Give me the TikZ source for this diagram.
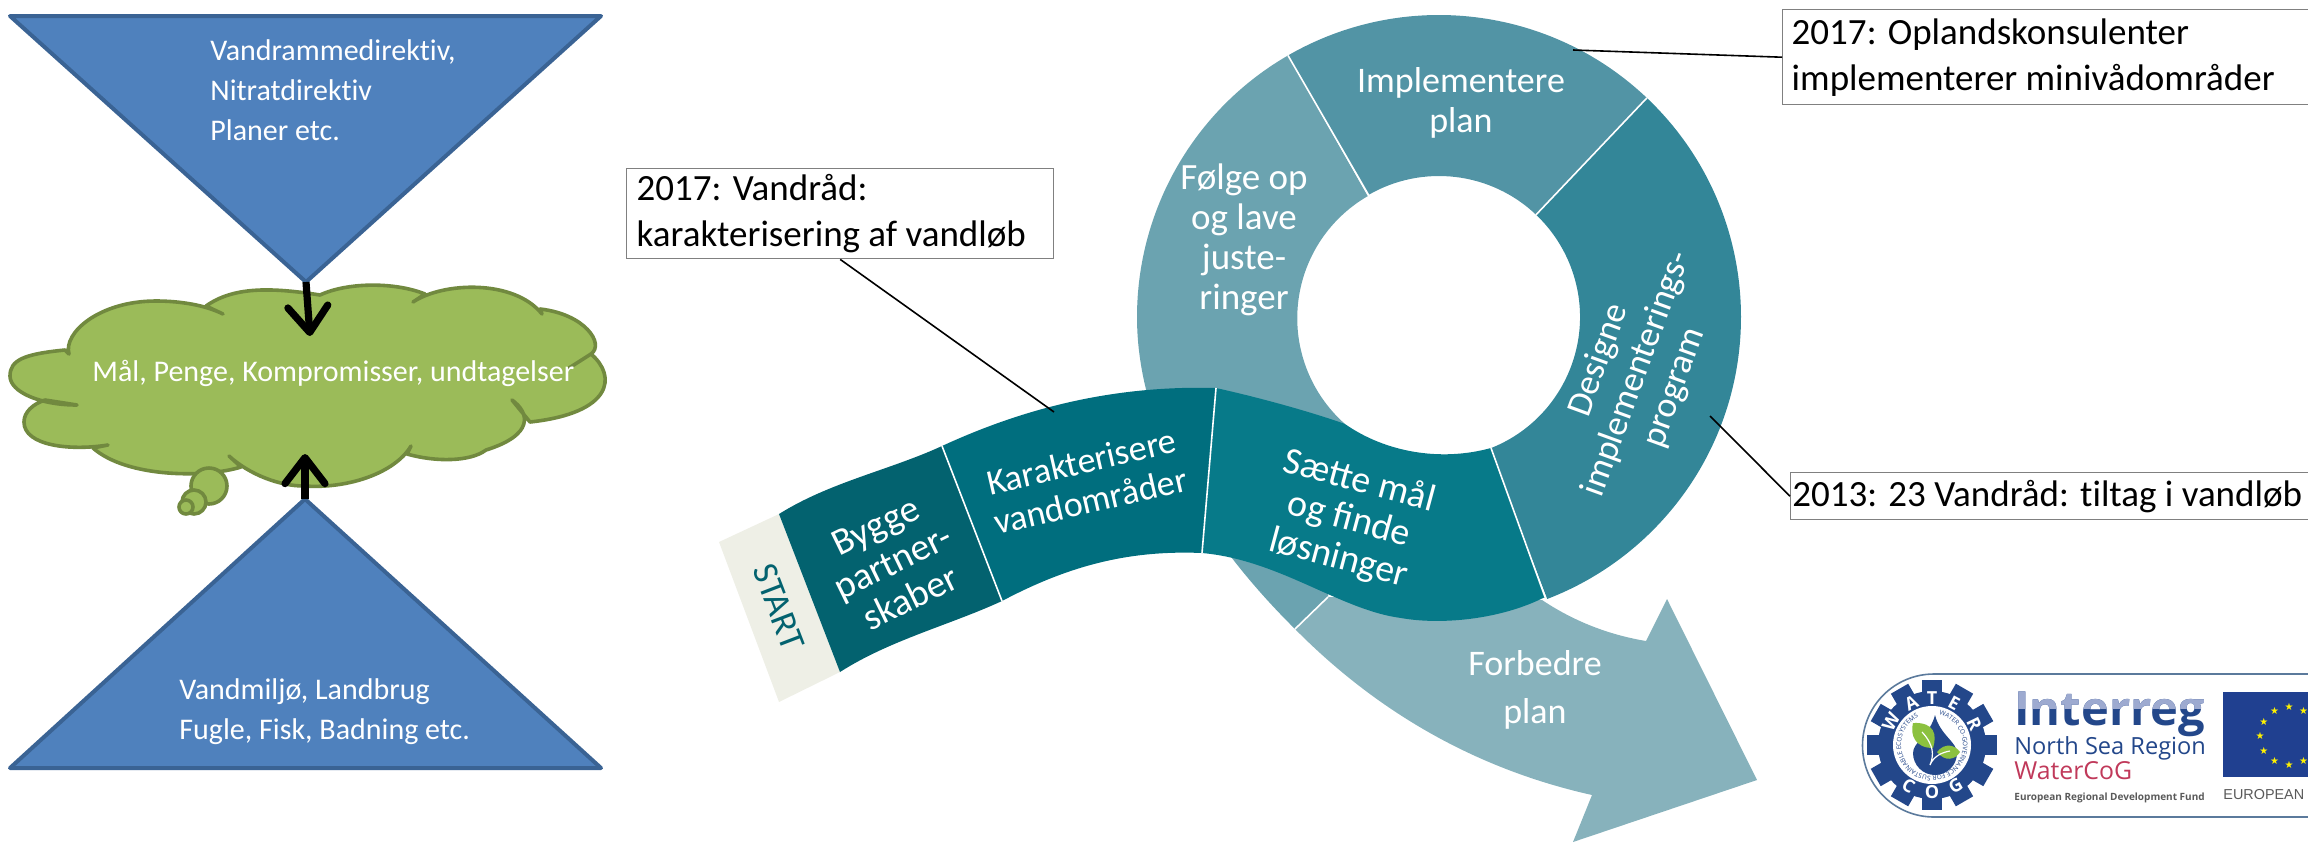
\documentclass[tikz,border=0pt]{standalone}
\usepackage{fontspec}
\setmainfont[Ligatures=NoCommon]{Carlito}
\newfontfamily\stepfont{Carlito}
\newfontfamily\logofont{Open Sans}
\newfontfamily\flagfont{Liberation Sans}
\newfontfamily\starfont{DejaVu Sans}
\usetikzlibrary{arrows.meta,calc,decorations.text}
\definecolor{trifill}{HTML}{4F81BD}
\definecolor{triline}{HTML}{3A6394}
\definecolor{cloudfill}{HTML}{9BBB59}
\definecolor{cloudline}{HTML}{71893F}
\definecolor{forbedrecol}{HTML}{87B2BC}
\definecolor{foelgecol}{HTML}{6BA3B0}
\definecolor{implcol}{HTML}{5294A5}
\definecolor{designcol}{HTML}{338698}
\definecolor{saettecol}{HTML}{077A89}
\definecolor{karakcol}{HTML}{006E7E}
\definecolor{byggecol}{HTML}{03626F}
\definecolor{startcol}{HTML}{EEEFE6}
\definecolor{logoblue}{HTML}{23478A}
\definecolor{logopale}{HTML}{9DAAD0}
\definecolor{logoframe}{HTML}{5B7A9C}
\definecolor{logored}{HTML}{C0395A}
\definecolor{logoleaf}{HTML}{8CC13F}
\definecolor{flagblue}{HTML}{204090}
\tikzstyle{triangle}=[fill=trifill,draw=triline,line width=2pt,line join=round]
\tikzstyle{tritext}=[text=white,anchor=north west,align=flush left,inner sep=0pt,
    font=\fontsize{15}{20}\selectfont]
\tikzstyle{cloud}=[fill=cloudfill,draw=cloudline,line width=1.8pt,line join=round]
\tikzstyle{bigarrow}=[line width=3.6pt,-{Straight Barb[length=13pt,width=20pt,round]}]
\tikzstyle{notebox}=[draw=gray,fill=white,line width=0.7pt,anchor=north west,align=flush left,
    inner ysep=0pt,font=\fontsize{18.5}{23}\selectfont]
\tikzstyle{notewire}=[draw=black,line width=0.8pt]
\tikzstyle{divider}=[draw=white,line width=0.8pt]
\tikzstyle{stepname}=[text=white,align=center,inner sep=0pt,
    font=\stepfont\fontsize{18}{20}\selectfont]
\tikzstyle{logotext}=[inner sep=0pt,anchor=base west]
\newcommand{\ringsector}[3]{
    \fill[#1] ($(ringcentre)+(#2:302)$) arc[start angle=#2,end angle=#3,radius=302] --
        ($(ringcentre)+(#3:141)$) arc[start angle=#3,end angle=#2,radius=141] -- cycle;
}
\begin{document}
\begin{tikzpicture}[x=0.5pt,y=-0.5pt]
    \useasboundingbox (0,0) rectangle (2308,842);
    % triangles
    \coordinate (toptip) at (306,282);
    \coordinate (lowtip) at (305,499);
    \draw[triangle] (10,16) -- (601,16) -- (toptip) -- cycle;
    \draw[triangle] (10,768) -- (601,768) -- (lowtip) -- cycle;
    \node[tritext] (toptext) at (210,39) {Vandrammedirektiv,\\Nitratdirektiv\\Planer etc.};
    \node[tritext] (lowtext) at (179,678) {Vandmiljø, Landbrug\\Fugle, Fisk, Badning etc.};
    % cloud
    \draw[cloud] (69,354) .. controls (63,333) and (99,301) .. (156,301)
        .. controls (180,301) and (205,305) .. (223,314) -- (206,306)
        .. controls (233,287) and (269,287) .. (320,295)
        .. controls (348,282) and (395,282) .. (425,294) -- (413,302)
        .. controls (443,282) and (514,279) .. (542,314) -- (540,309)
        .. controls (585,314) and (605,344) .. (591,354) -- (569,368) -- (591,354)
        .. controls (617,376) and (613,413) .. (530,422) -- (512,400)
        .. controls (530,413) and (534,435) .. (486,450)
        .. controls (470,462) and (435,462) .. (407,454) -- (411,446)
        .. controls (395,473) and (348,489) .. (304,486)
        .. controls (280,486) and (250,475) .. (229,456) -- (241,467)
        .. controls (206,478) and (127,478) .. (93,448) -- (108,445)
        .. controls (71,451) and (24,446) .. (24,422)
        .. controls (24,412) and (33,404) .. (45,400) -- (77,405)
        .. controls (40,405) and (10,392) .. (10,376)
        .. controls (10,360) and (24,354) .. (65,350) -- cycle;
    \draw[cloud] (209,486) circle (18);
    \draw[cloud] (194,502) circle (12);
    \draw[cloud] (186,507) circle (7);
    \node[text=white,anchor=base west,inner sep=0pt,font=\fontsize{15}{20}\selectfont]
        (goal) at (92,381) {Mål, Penge, Kompromisser, undtagelser};
    \coordinate (goalnorth) at (310,336);
    \coordinate (goalsouth) at (305,454);
    \draw[bigarrow] (toptip) -- (goalnorth);
    \draw[bigarrow] (lowtip) -- (goalsouth);
    % forbedre arrow and ring
    \coordinate (ringcentre) at (1439,317);
    \coordinate (fbA) at (1295,629);
    \coordinate (fbB) at (1328,597);
    \fill[forbedrecol] (fbA) .. controls (1380,715) and (1480,770) .. (1592,795)
        -- (1573,842) -- (1757,780) -- (1667,599) -- (1646,641)
        .. controls (1610,635) and (1575,622) .. (1542,600) -- (fbB) -- cycle;
    \fill[foelgecol] ($(ringcentre)+(-120:302)$) arc[start angle=-120,end angle=-180,radius=302]
        .. controls (1137,430) and (1205,540) .. (fbA) -- (fbB) -- (1345,424)
        arc[start angle=131.4,end angle=240,radius=141] -- cycle;
    \ringsector{implcol}{-120}{-46.5}
    \ringsector{designcol}{-46.5}{69}
    \draw[divider] ($(ringcentre)+(-120:141)$) -- ($(ringcentre)+(-120:302)$);
    \draw[divider] ($(ringcentre)+(-46.5:141)$) -- ($(ringcentre)+(-46.5:302)$);
    \draw[divider] (fbA) -- (fbB);
    % band
    \coordinate (bandA) at (779,514);
    \coordinate (bandB) at (942,446);
    \coordinate (bandC) at (1216,388);
    \coordinate (bandD) at (1491,448);
    \coordinate (bandE) at (1545,597);
    \coordinate (bandF) at (1202,553);
    \coordinate (bandG) at (1002,601);
    \coordinate (bandH) at (840,672);
    \fill[startcol] (719,542) -- (bandA) -- (bandH) -- (779,702) -- cycle;
    \fill[byggecol] (bandA) .. controls (830,482) and (890,470) .. (bandB)
        -- (bandG) .. controls (950,625) and (890,640) .. (bandH) -- cycle;
    \fill[karakcol] (bandB) .. controls (1020,410) and (1110,385) .. (bandC)
        -- (bandF) .. controls (1130,550) and (1070,565) .. (bandG) -- cycle;
    \fill[saettecol] (bandC) .. controls (1270,400) and (1320,415) .. (1345,424)
        .. controls (1385,452) and (1440,462) .. (bandD) -- (bandE)
        .. controls (1500,620) and (1440,625) .. (1401,618)
        .. controls (1340,610) and (1280,560) .. (bandF) -- cycle;
    \draw[divider] (bandB) -- (bandG);
    \draw[divider] (bandC) -- (bandF);
    \draw[divider] (bandD) -- (bandE);
    % step labels
    \node[stepname] (impl) at (1461,103) {Implementere\\plan};
    \node[stepname,font=\stepfont\fontsize{18.5}{20}\selectfont] (foelge) at (1244,240)
        {Følge op\\og lave\\juste-\\ringer};
    \node[stepname,rotate=70] (design) at (1637,374) {Designe\\implementerings-\\program};
    \node[stepname,rotate=-15,font=\stepfont\fontsize{19}{20}\selectfont] (saette) at (1349,520)
        {Sætte mål\\og finde\\løsninger};
    \node[stepname,rotate=13] (karak) at (1086,481) {Karakterisere\\vandområder};
    \node[stepname,rotate=26,font=\stepfont\fontsize{19}{20}\selectfont] (bygge) at (893,562)
        {Bygge\\partner-\\skaber};
    \node[stepname,rotate=-69,text=byggecol] (start) at (779,607) {START};
    \node[stepname,font=\stepfont\fontsize{18}{24}\selectfont] (forbedre) at (1535,690)
        {Forbedre\\plan};
    % notes
    \node[notebox,inner xsep=5pt,minimum width=213.5pt,minimum height=45pt,text width=203.5pt]
        (noteA) at (626,168) {2017: Vandråd:\\karakterisering af vandløb};
    \node[notebox,inner xsep=4.5pt,minimum width=266.5pt,minimum height=47.5pt,text width=257.5pt]
        (noteB) at (1782,9) {2017: Oplandskonsulenter\\implementerer minivådområder};
    \node[notebox,inner xsep=0.8pt,minimum width=262.5pt,minimum height=23.5pt,text width=260.9pt]
        (noteC) at (1790,472) {2013: 23 Vandråd: tiltag i vandløb};
    \coordinate (wireA) at (1054,412);
    \coordinate (wireB) at (1573,50);
    \coordinate (wireC) at (1710,416);
    \draw[notewire] (noteA.south) -- (wireA);
    \draw[notewire] (noteB.west) -- (wireB);
    \draw[notewire] (noteC.west) -- (wireC);
    % logo
    \draw[draw=logoframe,line width=0.8pt] (2308,674) -- (1934,674)
        arc[start angle=-90,end angle=-270,radius=71.5] -- (2308,817);
    \coordinate (gear) at (1932,745);
    \foreach \a in {0,30,...,330}
        \fill[logoblue,rotate around={\a:(gear)}] ($(gear)+(-10,-65)$) rectangle ($(gear)+(10,-45)$);
    \fill[logoblue] (gear) circle (54);
    \fill[white] (gear) circle (39);
    \foreach \a/\l in {151/W,116/A,90/T,62/E,26/R}
        \node[text=white,rotate=\a-90,inner sep=0pt,font=\logofont\bfseries\fontsize{9}{9}\selectfont]
            at ($(gear)+(-\a:47)$) {\l};
    \foreach \a/\l in {240/C,270/O,300/G}
        \node[text=white,rotate=\a+90,inner sep=0pt,font=\logofont\bfseries\fontsize{9}{9}\selectfont]
            at ($(gear)+(-\a:47)$) {\l};
    \path[decorate,decoration={text along path,text color=logoblue,
        text={|\logofont\fontsize{3.2}{4}\selectfont|WATER CO-GOVERNANCE FOR SUSTAINABLE ECOSYSTEMS}}]
        ($(gear)+(-77:31)$) arc[start angle=-77,end angle=280,radius=31];
    \fill[logoblue] (1935,715) .. controls (1940,735) and (1957,742) .. (1957,753)
        arc[start angle=0,end angle=180,radius=22] .. controls (1913,742) and (1930,735) .. cycle;
    \fill[logoleaf] (1913,723) .. controls (1935,722) and (1937,735) .. (1933,748)
        .. controls (1915,748) and (1910,735) .. cycle;
    \fill[logoleaf] (1937,752) .. controls (1945,742) and (1955,745) .. (1960,752)
        .. controls (1955,760) and (1945,762) .. cycle;
    \draw[white,line width=0.6pt] (1922,732) .. controls (1934,745) and (1934,755) .. (1930,765)
        .. controls (1934,755) and (1944,752) .. (1950,751);
    \node[logotext,text=logoblue,font=\logofont\bfseries\fontsize{23.5}{24}\selectfont]
        (interreg) at (2014,725) {Interreg};
    \begin{scope}
        \clip (2005,685) rectangle (2215,708);
        \node[logotext,text=logopale,font=\logofont\bfseries\fontsize{23.5}{24}\selectfont]
            (interregpale) at (2014,725) {Interreg};
    \end{scope}
    \node[logotext,text=logoblue,font=\logofont\fontsize{11.8}{12}\selectfont]
        (northsea) at (2014,754) {North Sea Region};
    \node[logotext,text=logored,font=\logofont\fontsize{12.4}{13}\selectfont]
        (watercog) at (2014,779) {WaterCoG};
    \node[logotext,text=black!65,font=\logofont\bfseries\fontsize{5}{5}\selectfont]
        (fund) at (2014,800) {European Regional Development Fund};
    \fill[flagblue] (2223,692) rectangle (2308,777);
    \coordinate (flag) at (2289,736);
    \begin{scope}
        \clip (2223,692) rectangle (2308,777);
        \foreach \a in {0,30,...,330}
            \node[text=yellow,inner sep=0pt,font=\starfont\fontsize{5}{5}\selectfont]
                at ($(flag)+(\a:29)$) {★};
    \end{scope}
    \node[logotext,text=black!65,font=\flagfont\fontsize{7.2}{8}\selectfont]
        (europa) at (2223,799) {EUROPEAN};
\end{tikzpicture}
\end{document}
